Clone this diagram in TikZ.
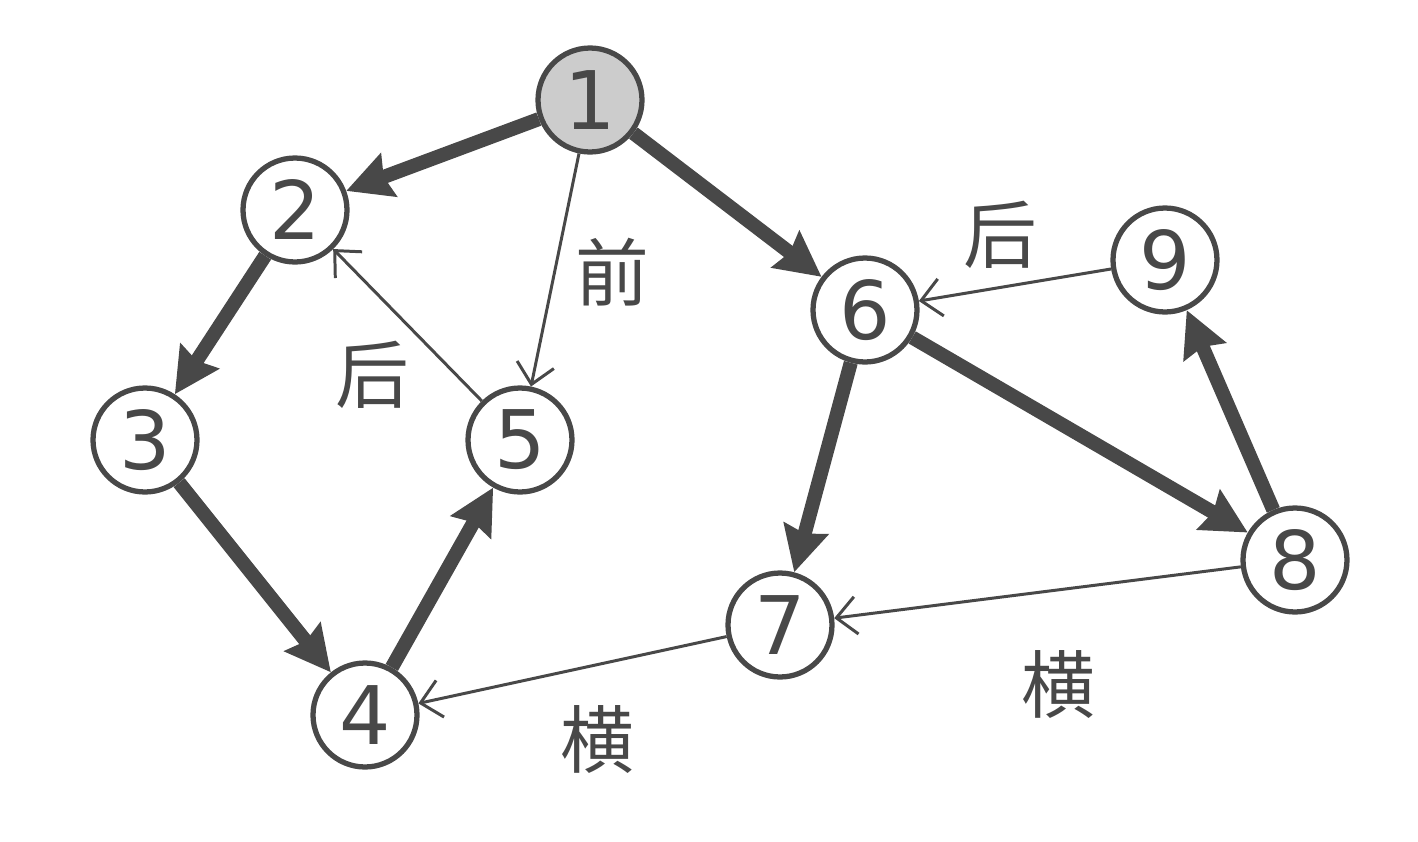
\documentclass[tikz,border=0pt]{standalone}
\usepackage{fontspec}
\setmainfont{DejaVu Sans}
\newfontfamily\cjk{Noto Sans CJK SC}
\usepackage{tikz}
\usetikzlibrary{arrows.meta}
\definecolor{ink}{RGB}{72,72,72}
\tikzstyle{vertex} = [circle, minimum size=2.08cm, inner sep=0pt, draw=ink, line width=3pt, fill=white, text=ink, font=\fontsize{46}{46}\selectfont]
\tikzstyle{root} = [vertex, fill=ink!28]
\tikzstyle{treearrow} = [draw=ink, line width=8pt, -{Stealth[length=0.9cm, width=0.9cm, inset=0.1cm]}]
\tikzstyle{backarrow} = [draw=ink, line width=1.7pt, -{Straight Barb[length=0.4cm, width=0.75cm]}]
\tikzstyle{edgetext} = [text=ink, font=\cjk\fontsize{42}{42}\selectfont]

\begin{document}
\begin{tikzpicture}[x=0.02cm, y=-0.02cm]

    \useasboundingbox (0,0) rectangle (1418,842);

    % Nodes
    \node (n1) [root] at (590,100) {1};
    \node (n2) [vertex] at (295,210) {2};
    \node (n3) [vertex] at (145,440) {3};
    \node (n4) [vertex] at (365,715) {4};
    \node (n5) [vertex] at (520,440) {5};
    \node (n6) [vertex] at (865,310) {6};
    \node (n7) [vertex] at (780,625) {7};
    \node (n8) [vertex] at (1295,560) {8};
    \node (n9) [vertex] at (1165,260) {9};

    % Tree arrows
    \draw [treearrow] (n1) -- (n2);
    \draw [treearrow] (n2) -- (n3);
    \draw [treearrow] (n3) -- (n4);
    \draw [treearrow] (n4) -- (n5);
    \draw [treearrow] (n1) -- (n6);
    \draw [treearrow] (n6) -- (n7);
    \draw [treearrow] (n6) -- (n8);
    \draw [treearrow] (n8) -- (n9);

    % Other arrows
    \draw [backarrow] (n1) -- (n5);
    \draw [backarrow] (n5) -- (n2);
    \draw [backarrow] (n9) -- (n6);
    \draw [backarrow] (n7) -- (n4);
    \draw [backarrow] (n8) -- (n7);

    % Labels
    \node (fwd) [edgetext] at (612,272) {前};
    \node (back1) [edgetext] at (372,375) {后};
    \node (back2) [edgetext] at (1000,235) {后};
    \node (cross1) [edgetext] at (597,740) {横};
    \node (cross2) [edgetext] at (1058,685) {横};

\end{tikzpicture}
\end{document}
